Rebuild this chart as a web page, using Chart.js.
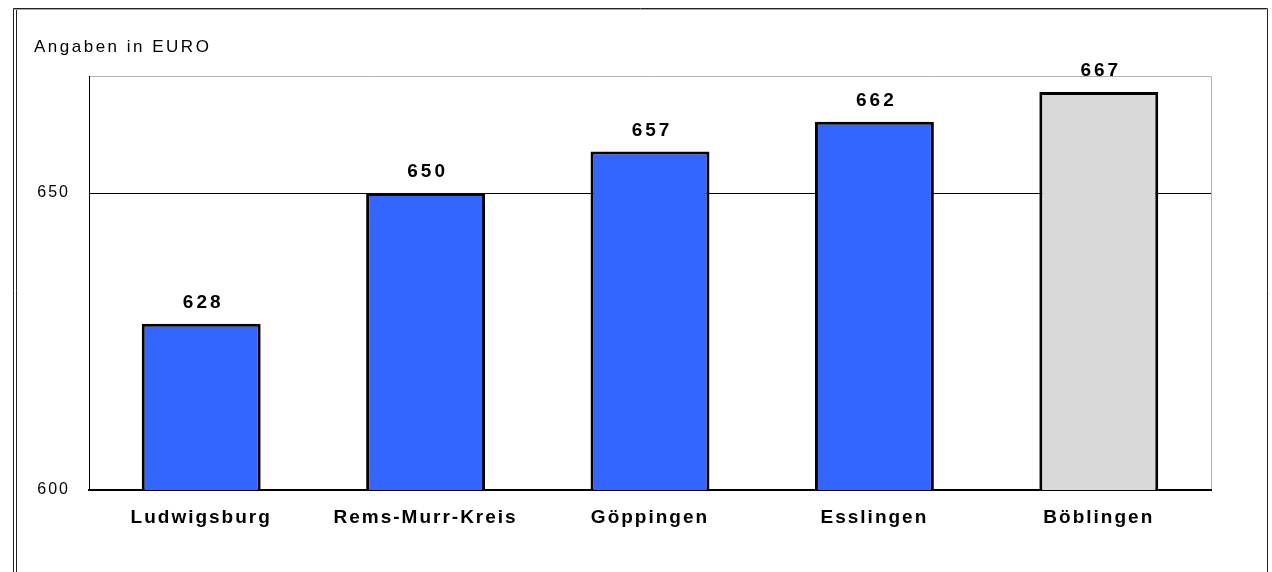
<!DOCTYPE html>
<html>
<head>
<meta charset="utf-8">
<script src="https://cdn.jsdelivr.net/npm/chart.js@4"></script>
<style>
  html, body { margin: 0; padding: 0; background: #fff; }
  #wrap { width: 1272px; height: 572px; position: relative; }
</style>
</head>
<body>
<div id="wrap"><canvas id="myChart" width="1272" height="572"></canvas></div>
<script>
const categories = ['Ludwigsburg', 'Rems-Murr-Kreis', 'Göppingen', 'Esslingen', 'Böblingen'];
const values = [628, 650, 657, 662, 667];
const barColors = ['#3366FF', '#3366FF', '#3366FF', '#3366FF', '#D9D9D9'];
const yTicks = [600, 650];
const unitLabel = 'Angaben in EURO';

const FONT = '"Liberation Sans", Arial, sans-serif';

// frame, caption, plot border, value labels
const decor = {
  id: 'decor',
  beforeDraw(chart) {
    const c = chart.ctx;
    c.letterSpacing = '2px';
    c.save();
    c.fillStyle = '#fff';
    c.fillRect(0, 0, chart.width, chart.height);
    // outer frame
    c.strokeStyle = '#222';
    c.lineWidth = 1;
    c.beginPath();
    c.moveTo(13.5, 572); c.lineTo(13.5, 8.5); c.lineTo(1267.5, 8.5); c.lineTo(1267.5, 572);
    c.moveTo(16.5, 572); c.lineTo(16.5, 9.5);
    c.stroke();
    c.strokeStyle = '#aaa';
    c.beginPath();
    c.moveTo(14, 9.5); c.lineTo(1266, 9.5);
    c.stroke();
    // caption
    c.fillStyle = '#000';
    c.letterSpacing = '2.5px';
    c.font = '17px ' + FONT;
    c.textBaseline = 'middle';
    c.textAlign = 'left';
    c.fillText(unitLabel, 34, 47);
    // plot border (top / right)
    const a = chart.chartArea;
    c.strokeStyle = '#b0b0b0';
    c.beginPath();
    c.moveTo(a.left, a.top + 0.5); c.lineTo(a.right + 0.5, a.top + 0.5); c.lineTo(a.right + 0.5, a.bottom);
    c.stroke();
    c.restore();
  },
  afterDatasetsDraw(chart) {
    const c = chart.ctx;
    const meta = chart.getDatasetMeta(0);
    c.save();
    c.fillStyle = '#000';
    c.letterSpacing = '3px';
    c.font = 'bold 19px ' + FONT;
    c.textAlign = 'center';
    c.textBaseline = 'middle';
    meta.data.forEach((bar, i) => {
      c.fillText(String(values[i]), bar.x + 2, bar.y - 21);
    });
    c.restore();
  }
};

new Chart(document.getElementById('myChart').getContext('2d'), {
  type: 'bar',
  data: {
    labels: categories,
    datasets: [{
      data: values,
      backgroundColor: barColors,
      borderColor: '#000',
      borderWidth: 3,
      borderSkipped: false,
      barPercentage: 0.53,
      categoryPercentage: 1.0,
    }]
  },
  options: {
    responsive: false,
    animation: false,
    layout: { padding: { left: 0, top: 76, right: 61, bottom: 0 } },
    scales: {
      x: {
        afterFit: s => { s.height = 82; },
        ticks: { color: '#000', padding: 16, font: { family: FONT, size: 19, weight: 'bold' } },
        grid: { display: false, drawTicks: false },
        border: { display: true, color: '#000', width: 2 },
      },
      y: {
        min: 600,
        max: 669.7,
        afterFit: s => { s.width = 89; },
        afterBuildTicks: s => { s.ticks = yTicks.map(v => ({ value: v })); },
        ticks: { color: '#000', padding: 19, font: { family: FONT, size: 16 } },
        grid: {
          drawTicks: false,
          color: ctx => (ctx.tick && ctx.tick.value === 650 ? '#000' : 'rgba(0,0,0,0)'),
          lineWidth: 1,
        },
        border: { display: true, color: '#000', width: 1 },
      }
    },
    plugins: {
      legend: { display: false },
      tooltip: { enabled: false },
    }
  },
  plugins: [decor],
});
</script>
</body>
</html>
